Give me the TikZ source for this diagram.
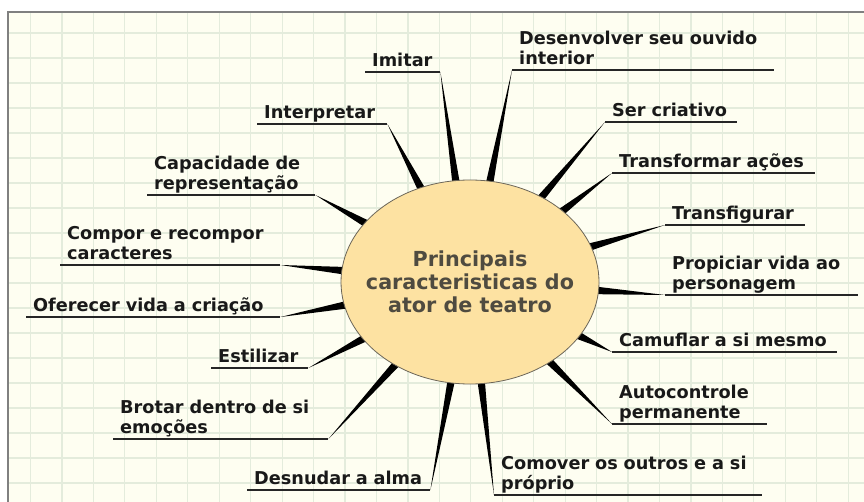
\documentclass[tikz,border=0pt]{standalone}
\usepackage{fontspec}
\setmainfont{DejaVu Sans}
\usepackage{tikz}
\usetikzlibrary{calc,backgrounds,shapes.geometric}
\definecolor{paper}{HTML}{FEFEF1}
\definecolor{gridc}{HTML}{E4ECDC}
\definecolor{hubfill}{HTML}{FDE2A2}
\definecolor{hubline}{HTML}{6B6558}
\definecolor{hubtext}{HTML}{4F4B40}
\tikzstyle{hubnode} = [
  draw=hubline,
  line width=0.8pt,
  fill=hubfill,
  ellipse,
  inner xsep=-15pt,
  inner ysep=0pt,
  minimum width=258pt,
  minimum height=204pt,
  align=center,
  text=hubtext,
  font=\bfseries\fontsize{20.7}{23}\selectfont,
]
\tikzstyle{trait} = [
  anchor=south west,
  inner xsep=7pt,
  inner ysep=-0.5pt,
  align=left,
  text=black!90,
  font=\bfseries\fontsize{17.7}{19.5}\selectfont,
  execute at end node=\strut,
]
\tikzstyle{uline} = [
  draw=black!85,
  line width=1.3pt,
]
\tikzstyle{spoke} = [
  fill=black,
]
\tikzstyle{gridline} = [
  draw=gridc,
  line width=1.2pt,
]

\begin{document}
\begin{tikzpicture}[
    x=1pt,
    y=-1pt,
  ]
  \useasboundingbox (0,0) rectangle (864,502);
  % paper with grid
  \begin{scope}[on background layer]
    \fill[white] (0,0) rectangle (864,502);
    \fill[paper] (8,12) rectangle (864,502);
    \foreach \i in {0,...,26}
      \draw[gridline] (30.5+31.45*\i,12) -- ++(0,490);
    \foreach \j in {0,...,18}
      \draw[gridline] (8,33+25*\j) -- (864,33+25*\j);
    \draw[gray, line width=1.5pt] (8,502) -- (8,12) -- (864,12);
  \end{scope}

  \node[hubnode]
  (hub) at (470,282) {Principais\\caracteristicas do\\ator de teatro};

  % right side
  \node[
    trait,
    text width=61pt,
  ](imitar) at (365,72) {Imitar};
  \node[
    trait,
    text width=248pt,
  ](ouvido) at (512,70) {Desenvolver seu ouvido\\interior};
  \node[
    trait,
    text width=118pt,
  ](criativo) at (605,122) {Ser criativo};
  \node[
    trait,
    text width=189pt,
  ](transformar) at (612,173) {Transformar ações};
  \node[
    trait,
    text width=126pt,
  ](transfigurar) at (665,225) {Transfigurar};
  \node[
    trait,
    text width=179pt,
  ](propiciar) at (665,295) {Propiciar vida ao\\personagem};
  \node[
    trait,
    text width=211pt,
  ](camuflar) at (612,352) {Camuflar a si mesmo};
  \node[
    trait,
    text width=141pt,
  ](autocontrole) at (612,424) {Autocontrole\\permanente};
  \node[
    trait,
    text width=254pt,
  ](comover) at (494,495) {Comover os outros e a si\\próprio};

  % left side
  \node[
    trait,
    text width=169pt,
  ](desnudar) at (247,490) {Desnudar a alma};
  \node[
    trait,
    text width=201pt,
  ](brotar) at (113,439) {Brotar dentro de si\\emoções};
  \node[
    trait,
    text width=83pt,
  ](estilizar) at (211,368) {Estilizar};
  \node[
    trait,
    text width=240pt,
  ](oferecer) at (26,317) {Oferecer vida a criação};
  \node[
    trait,
    text width=206pt,
  ](compor) at (60,265) {Compor e recompor\\caracteres};
  \node[
    trait,
    text width=154pt,
  ](capacidade) at (147,195) {Capacidade de\\representação};
  \node[
    trait,
    text width=116pt,
  ](interpretar) at (257,124) {Interpretar};

  % underlines
  \foreach \n in {imitar,ouvido,criativo,transformar,transfigurar,propiciar,
    camuflar,autocontrole,comover,desnudar,brotar,estilizar,oferecer,
    compor,capacidade,interpretar}
    \path[uline] (\n.south west) -- (\n.south east);

  % tapered spokes into the hub
  \begin{scope}[on background layer]
    \foreach \n/\a in {imitar/south east,ouvido/south west,
      criativo/south west,transformar/south west,transfigurar/south west,
      propiciar/south west,camuflar/south west,autocontrole/south west,
      comover/south west,desnudar/south east,brotar/south east,
      estilizar/south east,oferecer/south east,compor/south east,
      capacidade/south east,interpretar/south east}{
      \path (\n.\a) -- (hub) coordinate[pos=1.05] (tip);
      \path[spoke] (\n.\a) -- ($(tip)!3.8pt!90:(\n.\a)$)
        -- ($(tip)!3.8pt!-90:(\n.\a)$) -- cycle;
    }
  \end{scope}
\end{tikzpicture}
\end{document}
